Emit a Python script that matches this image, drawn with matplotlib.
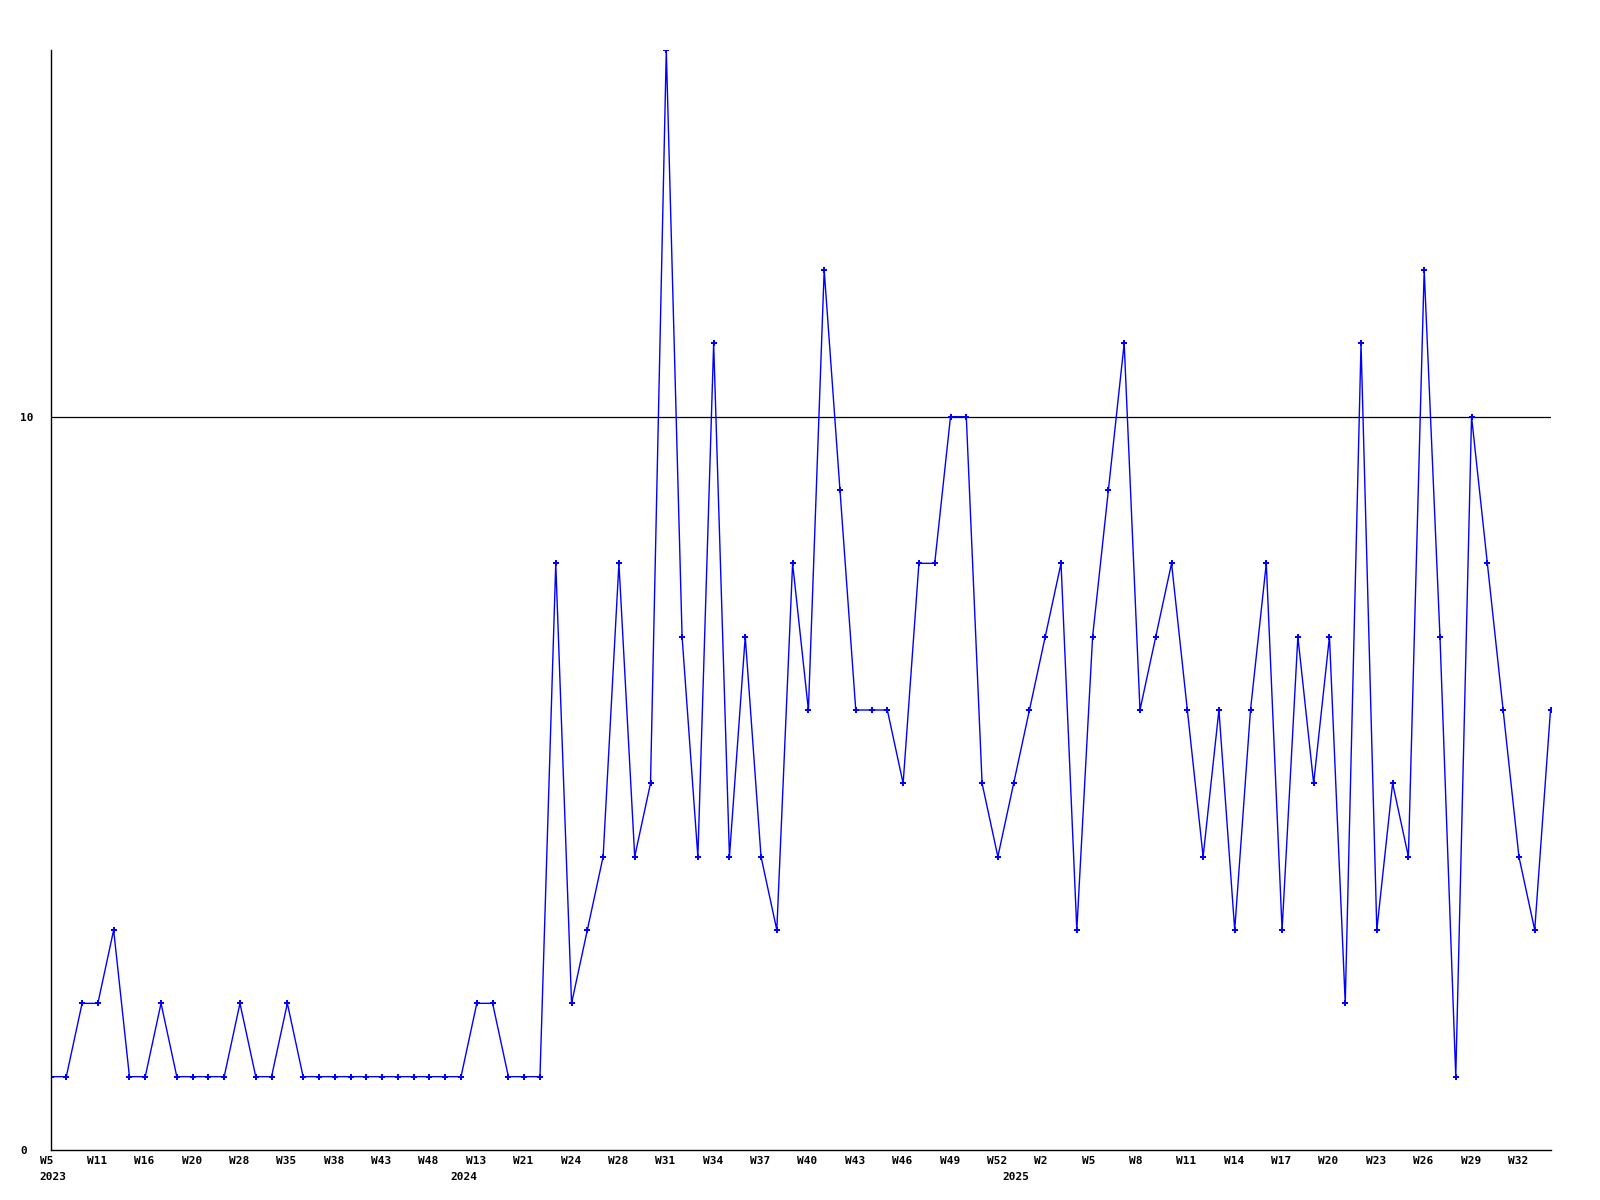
import matplotlib
matplotlib.use("Agg")
import matplotlib.pyplot as plt
import matplotlib.transforms as mtransforms

# weekly counts, one point per week that has data
values = [1, 1, 2, 2, 3, 1, 1, 2, 1, 1, 1, 1, 2, 1, 1, 2, 1, 1, 1, 1,
          1, 1, 1, 1, 1, 1, 1, 2, 2, 1, 1, 1, 8, 2, 3, 4, 8, 4, 5, 15,
          7, 4, 11, 4, 7, 4, 3, 8, 6, 12, 9, 6, 6, 6, 5, 8, 8, 10, 10, 5,
          4, 5, 6, 7, 8, 3, 7, 9, 11, 6, 7, 8, 6, 4, 6, 3, 6, 8, 3, 7,
          5, 7, 2, 11, 3, 5, 4, 12, 7, 1, 10, 8, 6, 4, 3, 6]

# labels every third point
week_labels = ['W5', 'W11', 'W16', 'W20', 'W28', 'W35', 'W38', 'W43', 'W48',
               'W13', 'W21', 'W24', 'W28', 'W31', 'W34', 'W37', 'W40', 'W43',
               'W46', 'W49', 'W52', 'W2', 'W5', 'W8', 'W11', 'W14', 'W17',
               'W20', 'W23', 'W26', 'W29', 'W32']
year_labels = ['2023', '2024', '2025']
year_pos = [0, 26, 61]

font = 'DejaVu Sans Mono'

fig = plt.figure(figsize=(16, 12), dpi=100)
ax = fig.add_axes([50.5 / 1600, 50 / 1200, 1500 / 1600, 1100 / 1200])

x = list(range(len(values)))
ax.plot(x, values, color='#0000ff', lw=1.0, marker='P', ms=4.5, mew=0)
ax.axhline(10, color='black', lw=0.9, zorder=1)

ax.set_xlim(0, len(values) - 1)
ax.set_ylim(0, 15)

for side in ['top', 'right']:
    ax.spines[side].set_visible(False)
for side in ['left', 'bottom']:
    ax.spines[side].set_linewidth(1.0)
    ax.spines[side].set_color('black')

ax.set_xticks([])
ax.set_yticks([0, 10])
ax.set_yticklabels(['0', '10'], fontfamily=font, fontweight='bold', fontsize=8)
ax.tick_params(axis='y', length=0, pad=22)
for lbl in ax.get_yticklabels():
    lbl.set_horizontalalignment('left')

# week and year labels, left edge slightly before the point
off1 = mtransforms.ScaledTranslation(-11 / 100, -11 / 100, fig.dpi_scale_trans)
off2 = mtransforms.ScaledTranslation(-11 / 100, -26.5 / 100, fig.dpi_scale_trans)
for i, lab in enumerate(week_labels):
    ax.text(i * 3, 0, lab, transform=ax.get_xaxis_transform() + off1,
            ha='left', va='center', fontfamily=font, fontweight='bold', fontsize=8)
for p, lab in zip(year_pos, year_labels):
    ax.text(p, 0, lab, transform=ax.get_xaxis_transform() + off2,
            ha='left', va='center', fontfamily=font, fontweight='bold', fontsize=8)

fig.savefig('out.png', dpi=100, facecolor='white')
